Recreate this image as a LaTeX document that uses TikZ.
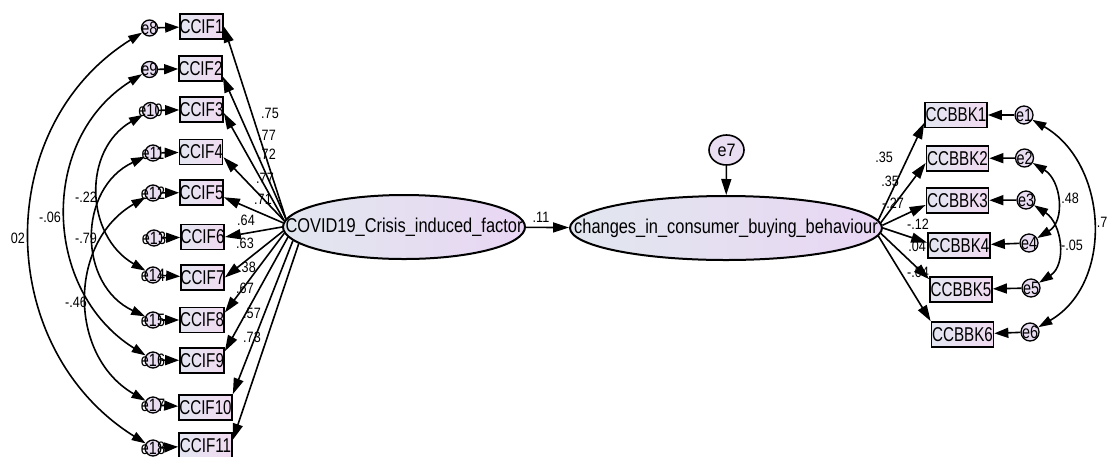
\documentclass[tikz,border=0pt]{standalone}
\usepackage{fontspec}
\setmainfont{Liberation Sans}
\usepackage{graphicx}
\usetikzlibrary{arrows.meta,shapes.geometric}

\definecolor{boxL}{HTML}{E3E6F1}
\definecolor{boxR}{HTML}{F1DAF1}
\definecolor{ellL}{HTML}{E1E7EE}
\definecolor{ellR}{HTML}{E9D6F4}
\definecolor{errfill}{HTML}{E9DDF2}

% condensed text that does not widen its node
\newcommand{\sqz}[2]{\makebox[0pt]{\scalebox{#1}[1]{#2}}}
\newcommand{\boxtxt}[1]{\sqz{0.76}{#1}}
\newcommand{\errtxt}[1]{\sqz{0.8}{#1}}
\newcommand{\coef}[1]{\scalebox{0.84}[1]{#1}}

\begin{document}
\begin{tikzpicture}[x=1pt,y=1pt,
  obs/.style={draw, line width=1.7pt, rectangle, inner sep=0pt, minimum height=25pt,
              left color=boxL, right color=boxR, font=\fontsize{20}{20}\selectfont},
  lat/.style={draw, line width=2pt, ellipse, inner sep=0pt, minimum height=64pt,
              left color=ellL, right color=ellR, font=\fontsize{20}{20}\selectfont},
  err/.style={draw, line width=1.3pt, circle, inner sep=0pt, minimum size=16pt,
              fill=errfill, font=\fontsize{18}{18}\selectfont},
  lbl/.style={inner sep=0pt, font=\fontsize{15}{15}\selectfont},
  path/.style={line width=1.6pt, -{Triangle[length=16pt,width=10pt]}},
  epath/.style={line width=1.6pt, -{Triangle[length=14pt,width=10pt]}},
  cov/.style={line width=1.6pt, {Triangle[length=14pt,width=9pt]}-{Triangle[length=14pt,width=9pt]}}
]
\useasboundingbox (0,0) rectangle (1107,-456);
\fill[white] (0,0) rectangle (1107,-456);

% latent variables
\node[lat, minimum width=242pt] (cov) at (404,-227) {\sqz{0.82}{COVID19\_Crisis\_induced\_factor}};
\node[lat, minimum width=312pt] (chg) at (726,-228) {\sqz{0.82}{changes\_in\_consumer\_buying\_behaviour}};
\node[draw, line width=1.6pt, ellipse, inner sep=0pt, minimum width=35pt, minimum height=30pt,
      fill=errfill, font=\fontsize{18}{18}\selectfont] (e7) at (726.5,-150) {\sqz{0.9}{e7}};

% observed indicators, left block
\foreach \i/\x/\y/\w in {1/201.5/26.5/43, 2/200.5/68.5/43, 3/201.5/109.5/43, 4/201/152/43,
                         5/201.5/192.5/43, 6/202.5/237/43, 7/202.5/277.5/43, 8/202/320/44,
                         9/202/360.5/44, 10/205.5/407.5/53, 11/205.5/445.5/53}
  \node[obs, minimum width=\w pt] (c\i) at (\x,-\y) {\boxtxt{CCIF\i}};

% observed indicators, right block
\foreach \i/\x/\y in {1/956/115, 2/957.5/158.5, 3/957.5/200.5, 4/959/245.5, 5/961/289.5, 6/962.5/334.5}
  \node[obs, minimum width=62pt] (b\i) at (\x,-\y) {\boxtxt{CCBBK\i}};

% error terms, left block
\foreach \i/\x/\y in {8/149.5/28, 9/149.5/69.5, 10/150.5/110.5, 11/153/153, 12/153/193, 13/154/238,
                      14/153/275, 15/153/320, 16/153/360, 17/153/405, 18/153/448}
  \node[err, minimum size=16pt] (u\i) at (\x,-\y) {\errtxt{e\i}};

% error terms, right block
\foreach \i/\x/\y in {1/1024/115, 2/1024.5/158, 3/1026/200, 4/1029/243, 5/1031/288, 6/1030/332}
  \node[err, minimum size=18pt] (r\i) at (\x,-\y) {\errtxt{e\i}};

% coefficients
\node[lbl] (k1) at (270,-113) {\coef{.75}};
\node[lbl] (k2) at (267,-135) {\coef{.77}};
\node[lbl] (k3) at (267,-154) {\coef{.72}};
\node[lbl] (k4) at (265,-178) {\coef{.77}};
\node[lbl] (k5) at (263,-199) {\coef{.71}};
\node[lbl] (k6) at (246,-220) {\coef{.64}};
\node[lbl] (k7) at (245,-243) {\coef{.63}};
\node[lbl] (k8) at (247,-267) {\coef{.38}};
\node[lbl] (k9) at (245,-288) {\coef{.67}};
\node[lbl] (k10) at (252,-313) {\coef{.57}};
\node[lbl] (k11) at (252,-337) {\coef{.73}};
\node[lbl] (k12) at (541,-217) {\coef{.11}};
\node[lbl] (q1) at (884,-157) {\coef{.35}};
\node[lbl] (q2) at (890,-181) {\coef{.35}};
\node[lbl] (q3) at (893,-203) {\coef{-.27}};
\node[lbl] (q4) at (918,-224) {\coef{-.12}};
\node[lbl] (q5) at (917,-246) {\coef{.04}};
\node[lbl] (q6) at (918,-272) {\coef{-.04}};
\node[lbl] (w1) at (18,-238) {\coef{02}};
\node[lbl] (w2) at (50,-217) {\coef{-.06}};
\node[lbl] (w3) at (86,-197) {\coef{-.22}};
\node[lbl] (w4) at (86,-238) {\coef{-.79}};
\node[lbl] (w5) at (76,-302) {\coef{-.46}};
\node[lbl] (w6) at (1070,-198) {\coef{.48}};
\node[lbl] (w7) at (1072,-245) {\coef{-.05}};
\node[lbl] (w8) at (1102,-222) {\coef{.7}};

% structural paths
\draw[path] (cov) -- (chg);
\draw[path] (e7) -- (chg);

% loadings, left block
\draw[path] (cov.176) -- (c1.east);
\draw[path] (cov.176) -- (c2.-20);
\draw[path] (cov.177) -- (c3.-9);
\draw[path] (cov.177) -- (c4.-13);
\draw[path] (cov.178) -- (c5.-12);
\draw[path] (cov.180) -- (c6.east);
\draw[path] (cov.182) -- (c7.east);
\draw[path] (cov.183) -- (c8.18);
\draw[path] (cov.185) -- (c9.22);
\draw[path] (cov.187) -- (c10.north east);
\draw[path] (cov.189) -- (c11.12);

% loadings, right block
\draw[path] (chg.3) -- (b1.194);
\draw[path] (chg.2) -- (b2.188);
\draw[path] (chg.1) -- (b3.188);
\draw[path] (chg.0) -- (b4.175);
\draw[path] (chg.-2) -- (b5.162);
\draw[path] (chg.-3) -- (b6.north west);

% error paths
\foreach \i [evaluate=\i as \j using int(\i+7)] in {1,...,11}
  \draw[epath] (u\j) -- (c\i);
\foreach \i in {1,...,6}
  \draw[epath] (r\i) -- (b\i);

% error covariances, left block
\draw[cov] (u8) to[out=212, in=148, looseness=1.11] (u18);
\draw[cov] (u9) to[out=212, in=148, looseness=1.11] (u16);
\draw[cov] (u10) to[out=210, in=150, looseness=1.15] (u14);
\draw[cov] (u11) to[out=205, in=155, looseness=1.2] (u15);
\draw[cov] (u12) to[out=210, in=150, looseness=1.13] (u17);

% error covariances, right block
\draw[cov] (r1) to[out=-30, in=30, looseness=1.08] (r6);
\draw[cov] (r2) to[out=-31, in=31, looseness=1.13] (r4);
\draw[cov] (r3) to[out=-33, in=33, looseness=1.1] (r5);
\end{tikzpicture}
\end{document}
